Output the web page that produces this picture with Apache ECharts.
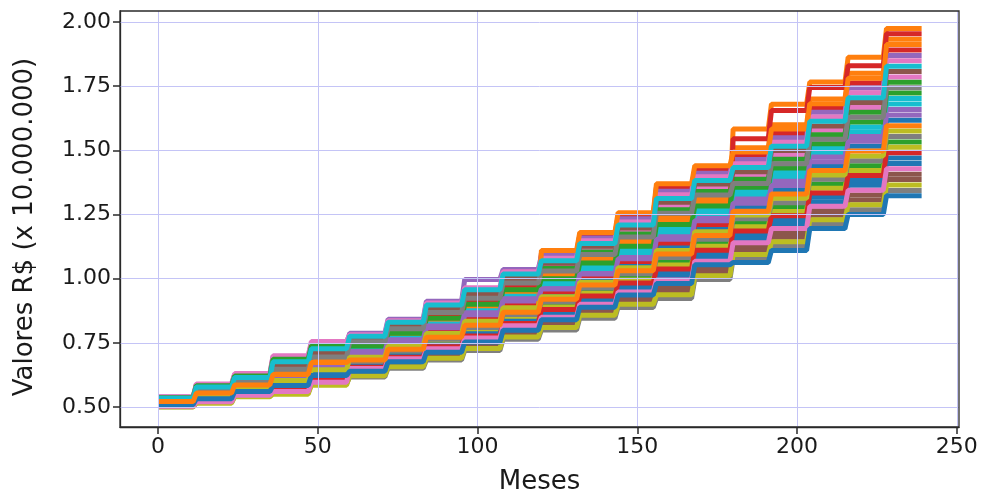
<!DOCTYPE html>
<html><head><meta charset="utf-8">
<script src="https://cdn.jsdelivr.net/npm/echarts@6/dist/echarts.min.js"></script>
<style>html,body{margin:0;padding:0;background:#fff}#c{width:984px;height:497px}</style>
</head><body><div id="c"></div>
<script>
// Tick labels
const xTicks = [0, 50, 100, 150, 200, 250];
const yTicks = [0.50, 0.75, 1.00, 1.25, 1.50, 1.75, 2.00];
const xTitle = 'Meses';
const yTitle = 'Valores R$ (x 10.000.000)';
const monthsPerStep = 12;
const nMonths = 240;

// Simulated paths: one value per year (20 years), held for 12 months
const p00 = [0.515,0.544,0.575,0.608,0.651,0.705,0.750,0.801,0.851,0.904,0.940,0.997,1.055,1.125,1.197,1.279,1.347,1.439,1.516,1.617];
const p01 = [0.535,0.580,0.618,0.681,0.733,0.743,0.793,0.853,0.908,0.966,1.020,1.083,1.150,1.240,1.311,1.583,1.680,1.766,1.863,1.975];
const p02 = [0.506,0.527,0.555,0.574,0.612,0.666,0.706,0.750,0.794,0.843,0.900,0.954,1.007,1.067,1.140,1.217,1.279,1.369,1.440,1.533];
const p03 = [0.525,0.561,0.595,0.642,0.689,0.749,0.799,0.860,0.916,0.974,1.100,1.169,1.245,1.356,1.426,1.479,1.566,1.665,1.762,1.891];
const p04 = [0.539,0.588,0.627,0.695,0.749,0.787,0.842,0.912,0.997,1.036,1.090,1.158,1.233,1.341,1.411,1.464,1.549,1.648,1.743,1.870];
const p05 = [0.510,0.534,0.563,0.589,0.629,0.633,0.669,0.705,0.745,0.790,0.830,0.878,0.924,0.966,1.040,1.125,1.178,1.265,1.326,1.407];
const p06 = [0.528,0.568,0.604,0.656,0.706,0.770,0.823,0.890,0.949,1.010,1.050,1.115,1.186,1.284,1.354,1.402,1.482,1.578,1.667,1.786];
const p07 = [0.501,0.517,0.543,0.555,0.590,0.617,0.651,0.683,0.720,0.764,0.800,0.846,0.888,0.923,0.997,1.078,1.127,1.212,1.269,1.344];
const p08 = [0.519,0.551,0.584,0.623,0.667,0.672,0.713,0.757,0.802,0.852,0.890,0.943,0.995,1.053,1.126,1.202,1.262,1.352,1.421,1.512];
const p09 = [0.532,0.576,0.613,0.671,0.722,0.727,0.774,0.831,0.883,0.939,0.990,1.051,1.114,1.197,1.269,1.325,1.397,1.491,1.572,1.681];
const p10 = [0.504,0.522,0.549,0.565,0.601,0.661,0.700,0.742,0.785,0.834,0.870,0.921,0.971,1.024,1.097,1.171,1.228,1.317,1.383,1.470];
const p11 = [0.522,0.556,0.589,0.632,0.678,0.732,0.780,0.838,0.892,0.948,1.010,1.072,1.138,1.226,1.297,1.510,1.600,1.700,1.800,1.933];
const p12 = [0.537,0.585,0.624,0.690,0.744,0.759,0.811,0.875,0.932,0.992,1.040,1.104,1.174,1.269,1.340,1.387,1.465,1.561,1.648,1.765];
const p13 = [0.513,0.539,0.569,0.598,0.640,0.699,0.743,0.794,0.843,0.896,0.950,1.008,1.067,1.139,1.211,1.545,1.655,1.745,1.830,1.954];
const p14 = [0.527,0.566,0.601,0.652,0.700,0.710,0.756,0.809,0.859,0.913,0.970,1.029,1.090,1.168,1.240,1.310,1.380,1.474,1.554,1.659];
const p15 = [0.508,0.530,0.557,0.579,0.618,0.628,0.663,0.698,0.736,0.782,0.820,0.868,0.912,0.952,1.026,1.109,1.161,1.247,1.307,1.386];
const p16 = [0.540,0.590,0.630,0.700,0.755,0.781,0.836,0.905,0.965,1.027,1.080,1.148,1.221,1.327,1.397,1.448,1.532,1.630,1.724,1.849];
const p17 = [0.518,0.549,0.581,0.618,0.662,0.677,0.719,0.764,0.810,0.860,0.910,0.964,1.019,1.082,1.154,1.233,1.296,1.387,1.459,1.554];
const p18 = [0.500,0.515,0.540,0.550,0.585,0.622,0.657,0.690,0.728,0.773,0.810,0.857,0.900,0.937,1.011,1.094,1.144,1.230,1.288,1.365];
const p19 = [0.531,0.573,0.610,0.666,0.717,0.721,0.768,0.823,0.875,0.931,0.980,1.040,1.102,1.183,1.254,1.340,1.414,1.508,1.591,1.702];
const p20 = [0.512,0.537,0.566,0.594,0.634,0.644,0.682,0.720,0.761,0.808,0.860,0.911,0.959,1.010,1.083,1.155,1.211,1.299,1.364,1.449];
const p21 = [0.523,0.559,0.592,0.637,0.684,0.688,0.731,0.779,0.826,0.878,1.110,1.180,1.257,1.370,1.440,1.494,1.583,1.682,1.781,1.912];
const p22 = [0.536,0.583,0.621,0.686,0.738,0.738,0.787,0.846,0.900,0.957,1.000,1.061,1.126,1.211,1.283,1.356,1.431,1.526,1.610,1.723];
const p23 = [0.505,0.525,0.552,0.569,0.607,0.655,0.694,0.735,0.777,0.825,0.880,0.932,0.983,1.038,1.111,1.186,1.245,1.334,1.402,1.491];
const p24 = [0.517,0.547,0.578,0.613,0.656,0.716,0.762,0.816,0.867,0.922,0.960,1.018,1.078,1.154,1.226,1.294,1.363,1.456,1.535,1.638];
const p25 = [0.530,0.571,0.607,0.661,0.711,0.765,0.817,0.883,0.941,1.001,1.060,1.126,1.197,1.298,1.369,1.417,1.499,1.595,1.686,1.807];
const p26 = [0.503,0.520,0.546,0.560,0.596,0.650,0.688,0.727,0.769,0.817,0.850,0.900,0.948,0.995,1.068,1.140,1.195,1.282,1.345,1.428];
const p27 = [0.526,0.563,0.598,0.647,0.695,0.754,0.805,0.868,0.924,0.983,1.030,1.094,1.162,1.255,1.326,1.371,1.448,1.543,1.629,1.744];
const p28 = [0.514,0.542,0.572,0.603,0.645,0.694,0.737,0.786,0.834,0.887,0.930,0.986,1.043,1.110,1.183,1.248,1.313,1.404,1.478,1.575];
const p29 = [0.534,0.578,0.615,0.676,0.727,0.776,0.830,0.897,0.957,1.018,1.070,1.137,1.209,1.312,1.383,1.433,1.516,1.613,1.705,1.828];
const p30 = [0.509,0.532,0.560,0.584,0.623,0.639,0.676,0.713,0.753,0.799,0.840,0.889,0.936,0.981,1.054,1.063,1.110,1.195,1.250,1.323];
const p31 = [0.521,0.554,0.586,0.627,0.673,0.683,0.725,0.772,0.818,0.869,0.920,0.975,1.031,1.096,1.168,1.263,1.330,1.421,1.497,1.596];

const paths = [p00,p01,p02,p03,p04,p05,p06,p07,p08,p09,p10,p11,p12,p13,p14,p15,
               p16,p17,p18,p19,p20,p21,p22,p23,p24,p25,p26,p27,p28,p29,p30,p31];

const palette = ['#1f77b4','#ff7f0e','#2ca02c','#d62728','#9467bd','#8c564b','#e377c2','#7f7f7f','#bcbd22','#17becf'];
const textColor = '#1a1a1a';
const gridColor = '#c4c4f6';
const frameColor = '#2a2a2a';

function monthly(a) {
  const d = [];
  for (let m = 0; m < nMonths; m++) d.push([m, a[Math.floor(m / monthsPerStep)]]);
  return d;
}

const series = [{
  type: 'line', data: [], z: 1, silent: true,
  markLine: {
    silent: true, symbol: ['none', 'none'], animation: false,
    label: { show: false },
    lineStyle: { color: gridColor, width: 1, type: 'solid', opacity: 1 },
    emphasis: { disabled: true },
    data: xTicks.map(v => ({ xAxis: v })).concat(yTicks.map(v => ({ yAxis: v })))
  }
}];
paths.forEach((p, i) => {
  series.push({
    type: 'line', data: monthly(p), showSymbol: false, symbol: 'none',
    lineStyle: { width: 5, color: palette[i % 10] },
    itemStyle: { color: palette[i % 10] },
    emphasis: { disabled: true }, silent: true, z: 2
  });
});

const chart = echarts.init(document.getElementById('c'), null, { renderer: 'canvas' });
chart.setOption({
  animation: false,
  backgroundColor: '#fff',
  grid: { left: 120, top: 11, width: 839, height: 416, show: true, borderColor: frameColor, borderWidth: 1.3,
          backgroundColor: 'transparent', z: 10, outerBoundsMode: 'none', containLabel: false },
  xAxis: {
    type: 'value', min: -11.9, max: 250.7,
    name: xTitle, nameLocation: 'middle', nameGap: 42,
    nameTextStyle: { fontSize: 26, color: textColor, fontFamily: 'DejaVu Sans' },
    axisLine: { show: true, onZero: false, lineStyle: { color: frameColor, width: 1.3 } },
    axisTick: { show: true, inside: false, customValues: xTicks, length: 7, lineStyle: { color: frameColor, width: 1.5 } },
    axisLabel: { customValues: xTicks, fontSize: 22, color: textColor, margin: 9, fontFamily: 'DejaVu Sans' },
    splitLine: { show: false }
  },
  yAxis: {
    type: 'value', min: 0.422, max: 2.043,
    name: yTitle, nameLocation: 'middle', nameGap: 82, nameRotate: 90,
    nameTextStyle: { fontSize: 26, color: textColor, fontFamily: 'DejaVu Sans', padding: [0, 16, 0, 0] },
    axisLine: { show: true, onZero: false, lineStyle: { color: frameColor, width: 1.3 } },
    axisTick: { show: true, inside: false, customValues: yTicks, length: 7, lineStyle: { color: frameColor, width: 1.5 } },
    axisLabel: { customValues: yTicks, fontSize: 22, color: textColor, margin: 9, fontFamily: 'DejaVu Sans',
                 formatter: v => Number(v).toFixed(2) },
    splitLine: { show: false }
  },
  series: series
});
</script>
</body></html>
